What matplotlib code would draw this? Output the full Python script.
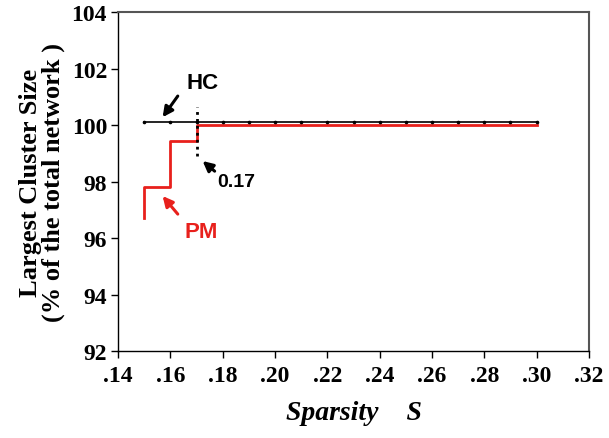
import matplotlib.pyplot as plt
import numpy as np

# data
sparsity = [0.15, 0.16, 0.17, 0.18, 0.19, 0.20, 0.21, 0.22, 0.23,
            0.24, 0.25, 0.26, 0.27, 0.28, 0.29, 0.30]
hc_size = [100.1] * 16
pm_x = [0.15, 0.15, 0.16, 0.17, 0.18, 0.19, 0.20, 0.21, 0.22, 0.23,
        0.24, 0.25, 0.26, 0.27, 0.28, 0.29, 0.30]
pm_size = [96.7, 97.8, 99.45, 100.0, 100.0, 100.0, 100.0, 100.0, 100.0,
           100.0, 100.0, 100.0, 100.0, 100.0, 100.0, 100.0, 100.0]
xticks = [0.14, 0.16, 0.18, 0.20, 0.22, 0.24, 0.26, 0.28, 0.30, 0.32]
yticks = [92, 94, 96, 98, 100, 102, 104]
cut = 0.17
cut_span = [98.9, 100.65]

serif = 'Liberation Serif'
sans = 'Liberation Sans'
red = '#e8201c'

fig = plt.figure(figsize=(6.09, 4.39), dpi=100)
ax = fig.add_axes([0.194, 0.198, 0.773, 0.772])

ax.plot(pm_x, pm_size, color=red, lw=2, drawstyle='steps-post', zorder=2)
ax.plot(sparsity, hc_size, color='black', lw=1.2, marker='o', ms=1.6, zorder=3)
ax.plot([cut, cut], cut_span, color='black', ls=(0, (1, 1.5)), lw=2, zorder=4)

ax.set_xlim(0.14, 0.32)
ax.set_ylim(92, 104)
ax.set_xticks(xticks)
ax.set_yticks(yticks)
ax.set_xticklabels(['.' + f'{v:.2f}'.split('.')[1] for v in xticks],
                   fontfamily=serif, fontweight='bold', fontsize=17)
ax.set_yticklabels([str(v) for v in yticks],
                   fontfamily=serif, fontweight='bold', fontsize=17)
ax.tick_params(axis='y', direction='out', length=5, width=1, pad=3)
ax.tick_params(axis='x', direction='out', length=5, width=1, pad=5)

for s in ['top', 'right']:
    ax.spines[s].set_color('#555555')
    ax.spines[s].set_linewidth(1.5)
for s in ['left', 'bottom']:
    ax.spines[s].set_linewidth(1)

ax.set_ylabel('Largest Cluster Size\n(% of the total network )',
              fontfamily=serif, fontweight='bold', fontsize=19,
              linespacing=0.95, labelpad=5)
ax.set_xlabel('Sparsity    S', fontfamily=serif, fontweight='bold',
              fontstyle='italic', fontsize=20, labelpad=10)

arrow = dict(arrowstyle='-|>', color='black', lw=2.2, mutation_scale=15,
             shrinkA=0, shrinkB=0)
arrow_r = dict(arrow, color=red)

ax.text(0.1723, 101.52, 'HC', fontfamily=sans, fontweight='bold',
        fontsize=16, ha='center', va='center')
ax.annotate('', xy=(0.1570, 100.28), xytext=(0.1628, 101.03), arrowprops=arrow)

ax.text(0.1853, 98.02, '0.17', fontfamily=sans, fontweight='bold',
        fontsize=14, ha='center', va='center')
ax.annotate('', xy=(0.1723, 98.73), xytext=(0.1769, 98.37), arrowprops=arrow)

ax.text(0.1719, 96.25, 'PM', fontfamily=sans, fontweight='bold',
        fontsize=16, color=red, ha='center', va='center')
ax.annotate('', xy=(0.1570, 97.49), xytext=(0.1628, 96.85), arrowprops=arrow_r)

plt.savefig('out.png', dpi=100)
